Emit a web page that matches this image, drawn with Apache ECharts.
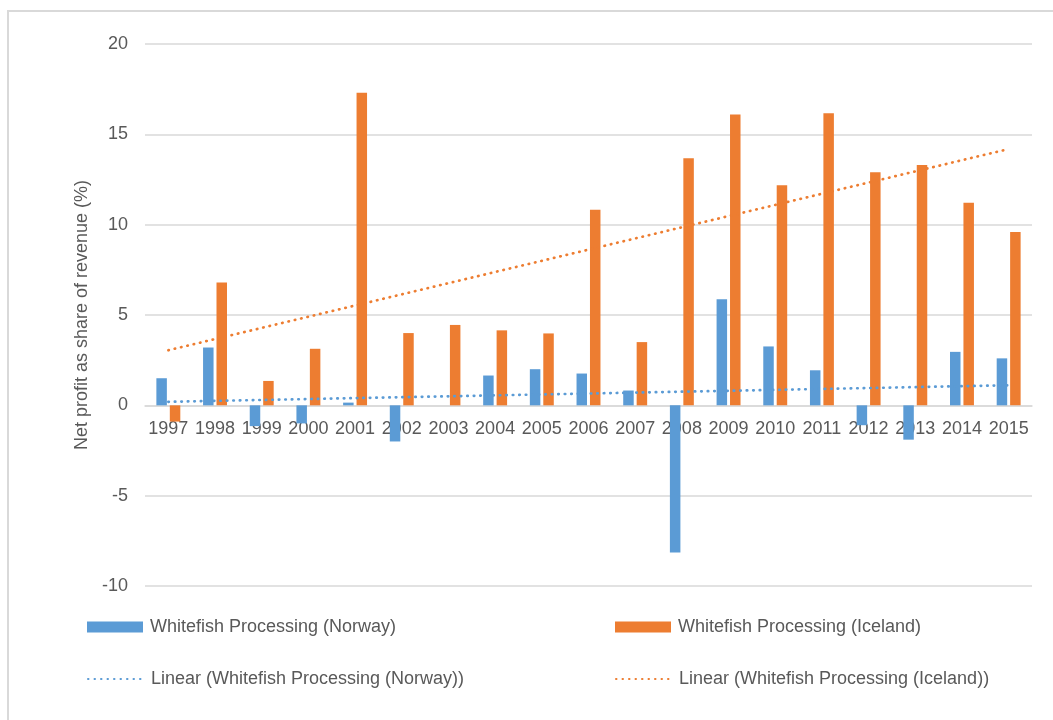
<!DOCTYPE html>
<html>
<head>
<meta charset="utf-8">
<script src="https://cdn.jsdelivr.net/npm/echarts@6/dist/echarts.min.js"></script>
<style>
  html, body { margin: 0; padding: 0; background: #fff; }
  #chart { width: 1053px; height: 720px; }
</style>
</head>
<body>
<div id="chart"></div>
<script>
// Net profit as share of revenue (%) for whitefish processing, 1997-2015
const years = ['1997','1998','1999','2000','2001','2002','2003','2004','2005','2006',
               '2007','2008','2009','2010','2011','2012','2013','2014','2015'];
const norway = [1.5, 3.2, -1.15, -1.0, 0.15, -2.0, 0, 1.65, 2.0, 1.76,
                0.82, -8.15, 5.87, 3.26, 1.94, -1.1, -1.9, 2.96, 2.6];
const iceland = [-0.9, 6.8, 1.35, 3.13, 17.3, 4.0, 4.45, 4.15, 3.98, 10.83,
                 3.5, 13.67, 16.1, 12.18, 16.17, 12.9, 13.3, 11.22, 9.6];
const yTicks = { min: -10, max: 20, interval: 5 };

const nameNorway = 'Whitefish Processing (Norway)';
const nameIceland = 'Whitefish Processing (Iceland)';
const trendNorway = 'Linear (Whitefish Processing (Norway))';
const trendIceland = 'Linear (Whitefish Processing (Iceland))';

// Least-squares linear trend over the category index
function linearTrend(values) {
  const n = values.length;
  let sx = 0, sy = 0, sxx = 0, sxy = 0;
  values.forEach((y, i) => { sx += i; sy += y; sxx += i * i; sxy += i * y; });
  const slope = (n * sxy - sx * sy) / (n * sxx - sx * sx);
  const icept = (sy - slope * sx) / n;
  return values.map((_, i) => +(icept + slope * i).toFixed(4));
}

const BLUE = '#5b9bd5';
const ORANGE = '#ed7d31';
const TEXT = '#595959';
const GRID = '#d9d9d9';
const FONT = 'Liberation Sans';

// plot area
const GRID_TOP = 44, GRID_BOTTOM = 134, CHART_H = 720;
const plotH = CHART_H - GRID_TOP - GRID_BOTTOM;
// shift the category axis up so it sits on the zero line
const zeroY = GRID_TOP + plotH * yTicks.max / (yTicks.max - yTicks.min);
const xAxisOffset = -(CHART_H - GRID_BOTTOM - zeroY);

const legendBase = {
  orient: 'horizontal',
  padding: 0,
  itemWidth: 56,
  itemHeight: 11,
  textStyle: { color: TEXT, fontSize: 18, fontFamily: FONT, padding: [0, 0, 0, 2] },
  selectedMode: false
};
const lineLegend = { itemStyle: { opacity: 0, borderWidth: 0 } };

const chart = echarts.init(document.getElementById('chart'), null, { renderer: 'canvas' });
chart.setOption({
  backgroundColor: '#fff',
  animation: false,
  graphic: [{
    type: 'rect',
    shape: { x: 8, y: 11, width: 1200, height: 900 },
    style: { fill: 'none', stroke: GRID, lineWidth: 2 },
    silent: true,
    z: -1
  }],
  grid: { left: 145, right: 21, top: GRID_TOP, bottom: GRID_BOTTOM, containLabel: false },
  legend: [
    Object.assign({}, legendBase, { data: [{ name: nameNorway, icon: 'rect' }], left: 87, top: 618 }),
    Object.assign({}, legendBase, { data: [{ name: nameIceland, icon: 'rect' }], left: 615, top: 618 }),
    Object.assign({}, legendBase, lineLegend, { data: [trendNorway], left: 87, top: 670 }),
    Object.assign({}, legendBase, lineLegend, { data: [trendIceland], left: 615, top: 670 })
  ],
  xAxis: {
    type: 'category',
    data: years,
    position: 'bottom',
    offset: xAxisOffset,
    axisLine: { show: true, onZero: false, lineStyle: { color: GRID, width: 1.5 } },
    axisTick: { show: false },
    axisLabel: { color: TEXT, fontSize: 18, fontFamily: FONT, margin: 15, interval: 0 },
    splitLine: { show: false }
  },
  yAxis: {
    type: 'value',
    min: yTicks.min,
    max: yTicks.max,
    interval: yTicks.interval,
    name: 'Net profit as share of revenue (%)',
    nameLocation: 'middle',
    nameGap: 53,
    nameTextStyle: { color: TEXT, fontSize: 18, fontFamily: FONT },
    axisLine: { show: false },
    axisTick: { show: false },
    axisLabel: { color: TEXT, fontSize: 18, fontFamily: FONT, margin: 17 },
    splitLine: { lineStyle: { color: GRID, width: 1.5 } }
  },
  series: [
    {
      name: nameNorway,
      type: 'bar',
      data: norway,
      barWidth: 10.5,
      barGap: '28%',
      itemStyle: { color: BLUE },
      z: 2
    },
    {
      name: nameIceland,
      type: 'bar',
      data: iceland,
      barWidth: 10.5,
      barGap: '28%',
      itemStyle: { color: ORANGE },
      z: 2
    },
    {
      name: trendNorway,
      type: 'line',
      data: linearTrend(norway),
      symbol: 'none',
      showSymbol: false,
      lineStyle: { color: BLUE, width: 2.7, type: [0.5, 6], cap: 'round' },
      itemStyle: { color: BLUE },
      z: 3
    },
    {
      name: trendIceland,
      type: 'line',
      data: linearTrend(iceland),
      symbol: 'none',
      showSymbol: false,
      lineStyle: { color: ORANGE, width: 2.7, type: [0.5, 6], cap: 'round' },
      itemStyle: { color: ORANGE },
      z: 3
    }
  ]
});
</script>
</body>
</html>
